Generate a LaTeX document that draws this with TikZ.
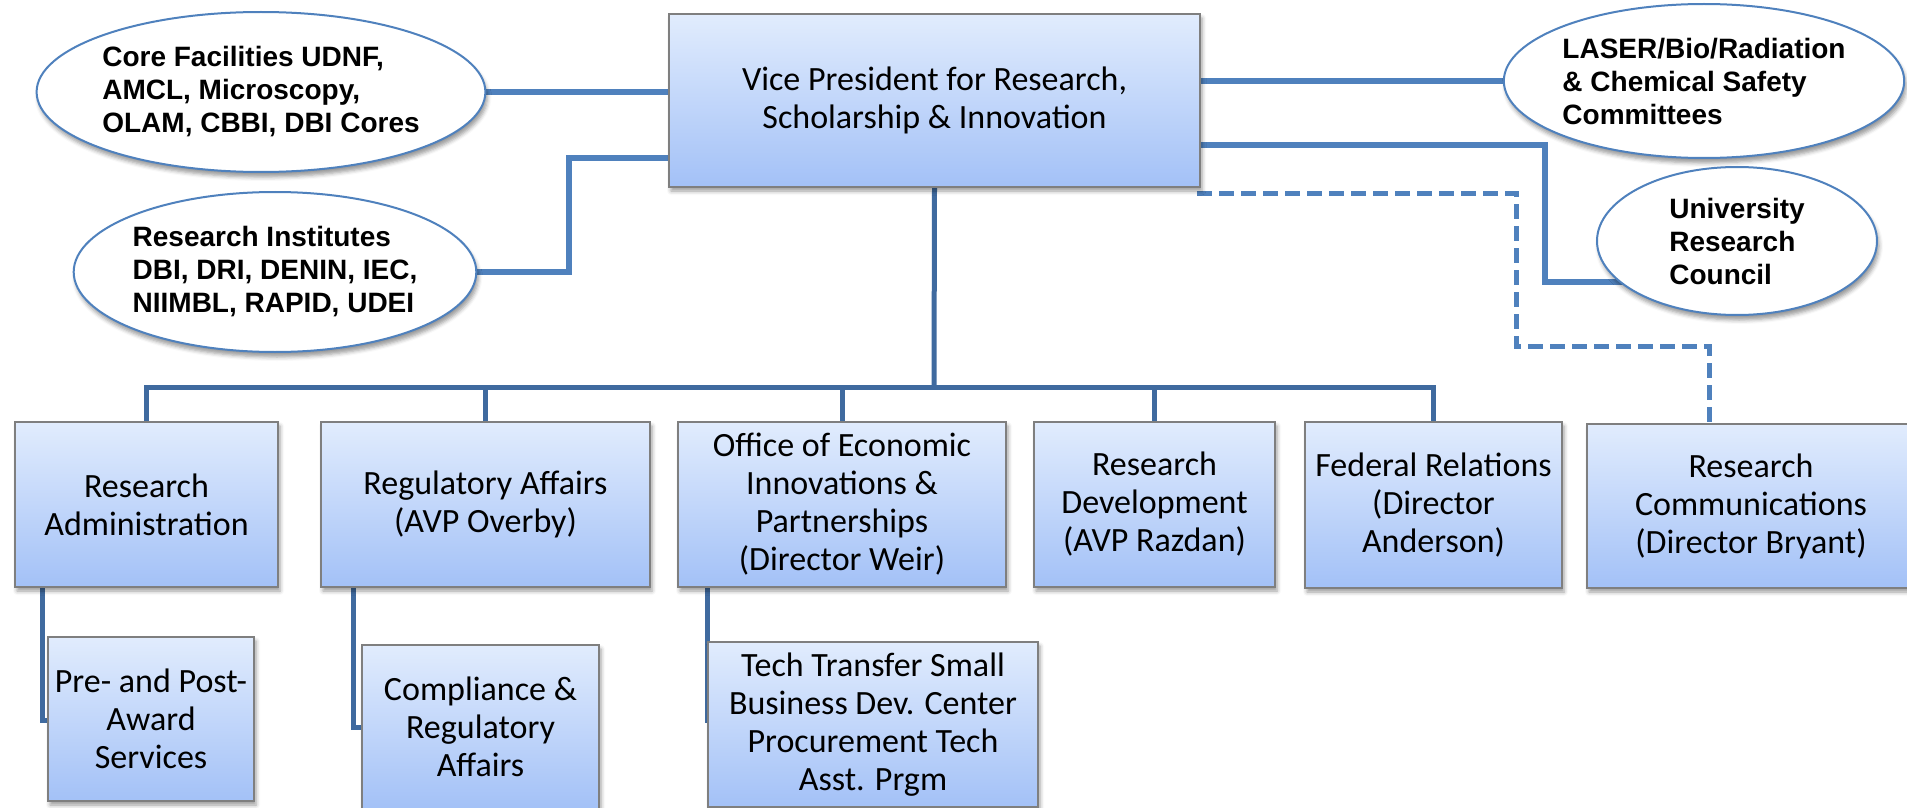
\documentclass[tikz,border=0pt]{standalone}
\usepackage{fontspec}
\setmainfont{Carlito}
\newfontfamily\ellfont{Liberation Sans}
\usetikzlibrary{shapes.geometric,shadows.blur}
\definecolor{boxtop}{HTML}{E1ECFD}
\definecolor{boxbot}{HTML}{A3C1F7}
\definecolor{boxline}{HTML}{7F7F7F}
\definecolor{ellline}{HTML}{4F81BD}
\definecolor{conn}{HTML}{4F81BD}
\definecolor{tree}{HTML}{3F6A9F}
\pgfdeclarelayer{background}
\pgfsetlayers{background,main}
\begin{document}
\begin{tikzpicture}[x=0.5pt,y=-0.5pt,
  orgbox/.style={draw=boxline, line width=0.8pt, top color=boxtop, bottom color=boxbot,
    align=center, inner sep=0pt, font=\fontsize{17}{19}\selectfont,
    blur shadow={shadow xshift=1pt, shadow yshift=-2pt, shadow blur radius=2pt, shadow opacity=40}},
  oval/.style={ellipse, draw=ellline, line width=1pt, fill=white, align=left, inner sep=0pt,
    font=\ellfont\bfseries\fontsize{14}{16.5}\selectfont,
    blur shadow={shadow xshift=1pt, shadow yshift=-2.5pt, shadow blur radius=2pt, shadow opacity=40}},
  link/.style={draw=conn, line width=3pt},
  treeline/.style={draw=tree, line width=2.5pt},
  dashlink/.style={draw=conn, line width=2.5pt, dash pattern=on 7.5pt off 3.5pt},
]
\useasboundingbox (0,0) rectangle (1907,808);

% top
\node[orgbox, minimum width=265.5pt, minimum height=86.5pt] (vp) at (934.5,100.5)
  {Vice President for Research,\\Scholarship \& Innovation};

% ellipses
\node[oval, minimum width=202pt, minimum height=80pt] (core) at (261,92)
  {Core Facilities UDNF,\\AMCL, Microscopy,\\OLAM, CBBI, DBI Cores};
\node[oval, minimum width=188pt, minimum height=80pt] (ri) at (275,272)
  {Research Institutes\\DBI, DRI, DENIN, IEC,\\NIIMBL, RAPID, UDEI};
\node[oval, minimum width=188pt, minimum height=77pt] (laser) at (1704,81)
  {LASER/Bio/Radiation\\\& Chemical Safety\\Committees};
\node[oval, minimum width=140pt, minimum height=74pt] (urc) at (1737,241)
  {University\\Research\\Council};

% second row
\node[orgbox, minimum width=131.5pt, minimum height=82.5pt] (ra) at (146.5,504.5)
  {Research\\Administration};
\node[orgbox, minimum width=164.5pt, minimum height=82.5pt] (reg) at (485.5,504.5)
  {Regulatory Affairs\\(AVP Overby)};
\node[orgbox, minimum width=164pt, minimum height=82.5pt] (oeip) at (842,504.5)
  {Office of Economic\\Innovations \&\\Partnerships\\(Director Weir)};
\node[orgbox, minimum width=120.5pt, minimum height=82.5pt] (rd) at (1154.5,504.5)
  {Research\\Development\\(AVP Razdan)};
\node[orgbox, minimum width=128.5pt, minimum height=83pt] (fed) at (1433.5,505)
  {Federal Relations\\(Director\\Anderson)};
\node[orgbox, minimum width=164pt, minimum height=82pt] (rc) at (1751,506)
  {Research\\Communications\\(Director Bryant)};

% third row
\node[orgbox, minimum width=103pt, minimum height=82pt] (pre) at (151,719)
  {Pre- and Post-\\Award\\Services};
\node[orgbox, minimum width=118.5pt, minimum height=82pt] (comp) at (480.5,727)
  {Compliance \&\\Regulatory\\Affairs};
\node[orgbox, minimum width=165pt, minimum height=82.5pt] (tech) at (873,724.5)
  {Tech Transfer Small\\Business Dev. Center\\Procurement Tech\\Asst. Prgm};

% helper coordinates
\coordinate (riK) at (569,158);
\coordinate (vpR2) at (1200,145);
\coordinate (urcK) at (1545,282);
\coordinate (dsA) at (1197,193);
\coordinate (dsB) at (1516,346);
\coordinate (dsC) at (1709,346);
\coordinate (bus) at (934,387);
\coordinate (k1) at (42,720);
\coordinate (k2) at (353,727);
\coordinate (k3) at (707,723);

\begin{pgfonlayer}{background}
  \draw[link] (core.east) -- (core.east -| vp.west);
  \draw[link] (ri.east) -| (riK) -- (riK -| vp.west);
  \draw[link] (laser.west) -- (laser.west -| vp.east);
  \draw[link] (vpR2) -| (urcK) -- (urcK -| urc.center);
  \draw[dashlink] (dsA) -| (dsB) -- (dsC) -- (dsC |- rc.north);
  \draw[treeline] (vp.south) -- (bus);
  \draw[treeline] (ra.north) -- (ra.north |- bus) -- (fed.north |- bus) -- (fed.north);
  \draw[treeline] (reg.north) -- (reg.north |- bus);
  \draw[treeline] (oeip.north) -- (oeip.north |- bus);
  \draw[treeline] (rd.north) -- (rd.north |- bus);
  \draw[treeline] (k1 |- ra.south) -- (k1) -- (k1 -| pre.west);
  \draw[treeline] (k2 |- reg.south) -- (k2) -- (k2 -| comp.west);
  \draw[treeline] (k3 |- oeip.south) -- (k3);
\end{pgfonlayer}
\end{tikzpicture}
\end{document}
